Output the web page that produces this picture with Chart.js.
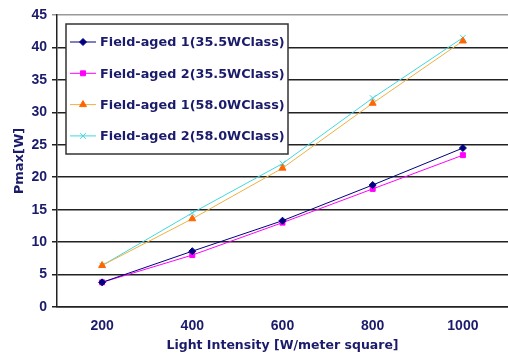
<!DOCTYPE html>
<html>
<head>
<meta charset="utf-8">
<script src="https://cdn.jsdelivr.net/npm/chart.js@4.4.0/dist/chart.umd.min.js"></script>
<style>
  html, body { margin: 0; padding: 0; background: #fff; }
  #wrap { width: 508px; height: 353px; }
</style>
</head>
<body>
<div id="wrap"><canvas id="chart"></canvas></div>
<script>
const intensities = ['200', '400', '600', '800', '1000'];

const seriesNames = [
    'Field-aged 1(35.5WClass)',
    'Field-aged 2(35.5WClass)',
    'Field-aged 1(58.0WClass)',
    'Field-aged 2(58.0WClass)',
];

const aged1_355 = [3.8, 8.6, 13.3, 18.8, 24.5];
const aged2_355 = [3.8, 8.0, 13.0, 18.2, 23.4];
const aged1_580 = [6.4, 13.6, 21.4, 31.4, 41.0];
const aged2_580 = [6.4, 14.5, 22.1, 32.2, 41.5];

const yTicks = [0, 5, 10, 15, 20, 25, 30, 35, 40, 45];

const navyText = '#1b1b6b';
const tickFont = 'Liberation Sans, Arial, sans-serif';
const textFont = 'DejaVu Sans, sans-serif';

function makeSet(label, data, line, marker, style, radius) {
    return {
        label: label,
        data: data,
        borderColor: line,
        backgroundColor: marker,
        pointBorderColor: marker,
        pointBackgroundColor: marker,
        pointStyle: style,
        pointRadius: radius,
        pointBorderWidth: 1,
        borderWidth: 1,
        tension: 0,
    };
}

// legend box drawn inside the plot, like the original
const boxLegend = {
    id: 'boxLegend',
    afterDraw(chart) {
        const ctx = chart.ctx;
        const x = 66, y = 24, w = 222, h = 130;
        ctx.save();
        ctx.fillStyle = '#fff';
        ctx.fillRect(x, y, w, h);
        ctx.strokeStyle = '#333';
        ctx.lineWidth = 1.5;
        ctx.strokeRect(x, y, w, h);
        ctx.font = 'bold 12.8px ' + textFont;
        ctx.textBaseline = 'middle';
        chart.data.datasets.forEach((ds, i) => {
            const cy = 42 + i * 31.3;
            ctx.strokeStyle = ds.borderColor;
            ctx.lineWidth = 1;
            ctx.beginPath();
            ctx.moveTo(70, cy);
            ctx.lineTo(96, cy);
            ctx.stroke();
            ctx.fillStyle = ds.pointBackgroundColor;
            ctx.strokeStyle = ds.pointBorderColor;
            Chart.helpers.drawPoint(ctx, {
                pointStyle: ds.pointStyle,
                radius: ds.pointRadius,
                borderWidth: 1,
            }, 83, cy);
            ctx.fillStyle = navyText;
            ctx.textAlign = 'left';
            ctx.fillText(ds.label, 100, cy + 1);
        });
        ctx.restore();
    }
};

new Chart(document.getElementById('chart'), {
    type: 'line',
    data: {
        labels: intensities,
        datasets: [
            makeSet(seriesNames[0], aged1_355, '#000080', '#000080', 'rectRot', 3.5),
            makeSet(seriesNames[1], aged2_355, '#ff00ff', '#ff00ff', 'rect', 3.5),
            makeSet(seriesNames[2], aged1_580, '#f0b040', '#ff6600', 'triangle', 4),
            makeSet(seriesNames[3], aged2_580, '#40d8e0', '#40d8e0', 'crossRot', 4),
        ]
    },
    options: {
        responsive: true,
        maintainAspectRatio: false,
        animation: false,
        layout: { autoPadding: false, padding: { top: 15, right: 0, left: 0, bottom: 0 } },
        plugins: {
            legend: { display: false },
            tooltip: { enabled: false },
        },
        scales: {
            x: {
                type: 'category',
                offset: true,
                grid: { display: false, drawTicks: false },
                border: { color: '#222', width: 1.5 },
                ticks: {
                    color: navyText,
                    padding: 11,
                    font: { family: tickFont, size: 14, weight: 'bold' },
                },
                title: {
                    display: true,
                    text: 'Light Intensity [W/meter square]',
                    color: navyText,
                    font: { family: textFont, size: 12.5, weight: 'bold' },
                    padding: { top: 3, bottom: 0 },
                },
                afterFit(scale) {
                    scale.height = 46;
                    scale.paddingLeft = 0;
                    scale.paddingRight = 0;
                },
            },
            y: {
                min: 0,
                max: 45,
                afterBuildTicks(scale) {
                    scale.ticks = yTicks.map(v => ({ value: v }));
                },
                grid: {
                    color: ctx => ctx.tick && ctx.tick.value === 45 ? '#999' : '#222',
                    lineWidth: 1.5,
                    tickLength: 5,
                },
                border: { color: '#222', width: 1.5 },
                ticks: {
                    color: navyText,
                    padding: 5,
                    font: { family: tickFont, size: 14, weight: 'bold' },
                },
                title: {
                    display: true,
                    text: 'Pmax[W]',
                    color: navyText,
                    font: { family: textFont, size: 13, weight: 'bold' },
                    padding: { top: 12, bottom: 0 },
                },
                afterFit(scale) { scale.width = 57; },
            }
        }
    },
    plugins: [boxLegend]
});
</script>
</body>
</html>
